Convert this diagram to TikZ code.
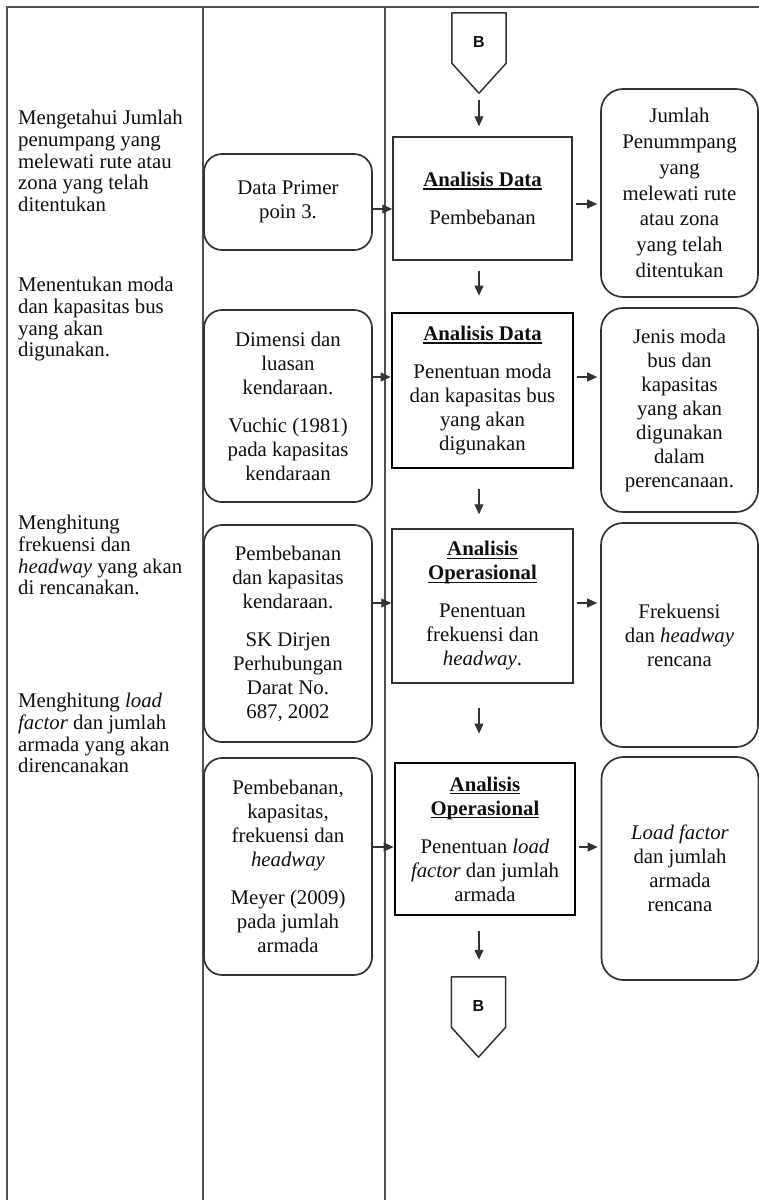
\documentclass[tikz,border=0pt]{standalone}
\usepackage{fontspec}
\setmainfont{Liberation Serif}
\newfontfamily\sansB{Liberation Sans}
\usepackage{tikz}
\usetikzlibrary{arrows.meta}
\definecolor{lineGrey}{RGB}{80,80,80}
\definecolor{boxGrey}{RGB}{50,50,50}
\definecolor{textBlack}{RGB}{15,15,15}
\newcommand{\judul}[1]{\setbox0\hbox{\textbf{#1}}\rlap{\rule[-3.2pt]{\wd0}{1.4pt}}\box0}

\begin{document}
\begin{tikzpicture}[x=1pt, y=-1pt,
    every node/.style={font=\fontsize{20.8}{24}\selectfont, text=textBlack},
    procbox/.style={rectangle, draw=boxGrey, line width=1.5pt, align=center, inner sep=0pt},
    thickbox/.style={procbox, draw=black, line width=2.8pt},
    srcbox/.style={rectangle, rounded corners=18pt, draw=boxGrey, line width=1.7pt,
                   align=center, minimum width=168pt, inner sep=0pt},
    outbox/.style={rectangle, rounded corners=22pt, draw=boxGrey, line width=1.7pt,
                   align=center, minimum width=157pt, inner sep=0pt},
    note/.style={anchor=north west, align=left, inner sep=0pt,
                 font=\fontsize{20.8}{21.7}\selectfont},
    offpage/.style={minimum width=54pt, minimum height=50pt, inner sep=0pt,
                    text height=19pt, text depth=0pt,
                    font=\sansB\bfseries\fontsize{16}{16}\selectfont},
    pentagon/.style={line width=1.5pt, boxGrey, line join=round},
    arr/.style={-{Triangle[length=10pt,width=9pt]}, line width=1.1pt, boxGrey},
    tabline/.style={line width=1.6pt, lineGrey}
]
\useasboundingbox (0,0) rectangle (759,1200);

% table
\draw[tabline] (7,1200) -- (7,7) -- (759,7);
\draw[tabline] (203,7) -- (203,1200);
\draw[tabline] (385,7) -- (385,1200);

% keterangan
\node[note] (t1) at (18,110) {Mengetahui Jumlah\\ penumpang yang\\ melewati rute atau\\ zona yang telah\\ ditentukan};
\node[note] (t2) at (18,277) {Menentukan moda\\ dan kapasitas bus\\ yang akan\\ digunakan.};
\node[note] (t3) at (18,515) {Menghitung\\ frekuensi dan\\ \textit{headway} yang akan\\ di rencanakan.};
\node[note] (t4) at (18,693) {Menghitung \textit{load}\\ \textit{factor} dan jumlah\\ armada yang akan\\ direncanakan};

% input
\node[srcbox, minimum height=96pt]  (l1) at (288,202)   {Data Primer\\ poin 3.};
\node[srcbox, minimum height=192pt] (l2) at (288,406)   {Dimensi dan\\ luasan\\ kendaraan.\\[14pt] Vuchic (1981)\\ pada kapasitas\\ kendaraan};
\node[srcbox, minimum height=217pt] (l3) at (288,633.5) {Pembebanan\\ dan kapasitas\\ kendaraan.\\[14pt] SK Dirjen\\ Perhubungan\\ Darat No.\\ 687, 2002};
\node[srcbox, minimum height=217pt] (l4) at (288,866.5) {Pembebanan,\\ kapasitas,\\ frekuensi dan\\ \textit{headway}\\[14pt] Meyer (2009)\\ pada jumlah\\ armada};

% proses
\node[offpage] (b1) at (479,38) {B};
\draw[pentagon] (b1.north west) -- (b1.north east) -- (b1.south east) -- ([yshift=-30pt]b1.south) -- (b1.south west) -- cycle;
\node[procbox, minimum width=179pt, minimum height=123pt]  (m1) at (482.5,198.5) {\judul{Analisis Data}\\[14pt] Pembebanan};
\node[thickbox, minimum width=181pt, minimum height=155pt] (m2) at (482.5,390.5) {\judul{Analisis Data}\\[14pt] Penentuan moda\\ dan kapasitas bus\\ yang akan\\ digunakan};
\node[procbox, minimum width=181pt, minimum height=154pt]  (m3) at (482.5,606)   {\judul{Analisis}\\ \judul{Operasional}\\[14pt] Penentuan\\ frekuensi dan\\ \textit{headway}.};
\node[thickbox, minimum width=180pt, minimum height=152pt] (m4) at (485,839)     {\judul{Analisis}\\ \judul{Operasional}\\[14pt] Penentuan \textit{load}\\ \textit{factor} dan jumlah\\ armada};
\node[offpage] (b2) at (478.5,1002) {B};
\draw[pentagon] (b2.north west) -- (b2.north east) -- (b2.south east) -- ([yshift=-30pt]b2.south) -- (b2.south west) -- cycle;

% output
\node[outbox, minimum height=208pt, font=\fontsize{20.8}{25.8}\selectfont] (r1) at (679.5,193) {Jumlah\\ Penummpang\\ yang\\ melewati rute\\ atau zona\\ yang telah\\ ditentukan};
\node[outbox, minimum height=204pt] (r2) at (679.5,410) {Jenis moda\\ bus dan\\ kapasitas\\ yang akan\\ digunakan\\ dalam\\ perencanaan.};
\node[outbox, minimum height=224pt] (r3) at (679.5,635) {Frekuensi\\ dan \textit{headway}\\ rencana};
\node[outbox, minimum height=223pt] (r4) at (680,868.5) {\textit{Load factor}\\ dan jumlah\\ armada\\ rencana};

% arrows
\coordinate (in1) at (0,209);
\coordinate (out1) at (0,204);
\coordinate (row2) at (0,377);
\coordinate (row3) at (0,603);
\coordinate (row4) at (0,847);

\draw[arr] (l1.east |- in1) -- (m1.west |- in1);
\draw[arr] (l2.east |- row2) -- (m2.west |- row2);
\draw[arr] (l3.east |- row3) -- (m3.west |- row3);
\draw[arr] (l4.east |- row4) -- (m4.west |- row4);

\draw[arr, shorten <=3pt, shorten >=3pt] (m1.east |- out1) -- (r1.west |- out1);
\draw[arr, shorten <=3pt, shorten >=3pt] (m2.east |- row2) -- (r2.west |- row2);
\draw[arr, shorten <=3pt, shorten >=3pt] (m3.east |- row3) -- (r3.west |- row3);
\draw[arr, shorten <=3pt, shorten >=3pt] (m4.east |- row4) -- (r4.west |- row4);

\draw[arr, shorten <=37pt, shorten >=10pt] (b1.south) -- (b1.south |- m1.north);
\draw[arr, shorten <=10pt, shorten >=16pt] (m1.south -| b1) -- (m2.north -| b1);
\draw[arr, shorten <=20pt, shorten >=14pt] (m2.south -| b1) -- (m3.north -| b1);
\draw[arr, shorten <=24pt, shorten >=28pt] (m3.south -| b1) -- (m4.north -| b1);
\draw[arr, shorten <=15pt, shorten >=17pt] (m4.south -| b1) -- (b2.north -| b1);
\end{tikzpicture}
\end{document}
